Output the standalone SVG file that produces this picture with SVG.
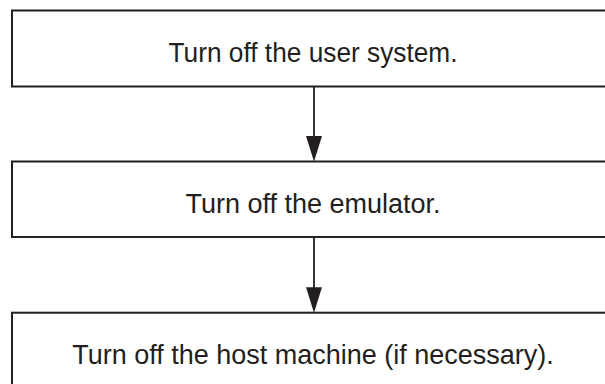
<svg xmlns="http://www.w3.org/2000/svg" width="605" height="384" viewBox="0 0 605 384">
<style>
.box{fill:#fff;stroke:#231f20;stroke-width:2}
.lbl{font-family:"Liberation Sans",Arial,sans-serif;font-size:27px;fill:#231f20;text-anchor:middle}
.conn{stroke:#231f20;stroke-width:1.8;fill:none}
.head{fill:#231f20}
</style>
<rect width="605" height="384" fill="#fff"/>
<g id="node1">
<rect class="box" x="12" y="10.5" width="610" height="76"/>
<text class="lbl" x="313" y="62.3" textLength="289" lengthAdjust="spacingAndGlyphs">Turn off the user system.</text>
</g>
<g id="node2">
<rect class="box" x="12" y="161.5" width="610" height="75.5"/>
<text class="lbl" x="313" y="213.3">Turn off the emulator.</text>
</g>
<g id="node3">
<rect class="box" x="12" y="312.7" width="610" height="80"/>
<text class="lbl" x="313" y="364">Turn off the host machine (if necessary).</text>
</g>
<g id="connectors">
<line class="conn" x1="314" y1="86.5" x2="314" y2="140"/>
<polygon class="head" points="306,136 322,136 314,161.5"/>
<line class="conn" x1="314" y1="237" x2="314" y2="290"/>
<polygon class="head" points="306,287.3 322,287.3 314,312.7"/>
</g>
</svg>
